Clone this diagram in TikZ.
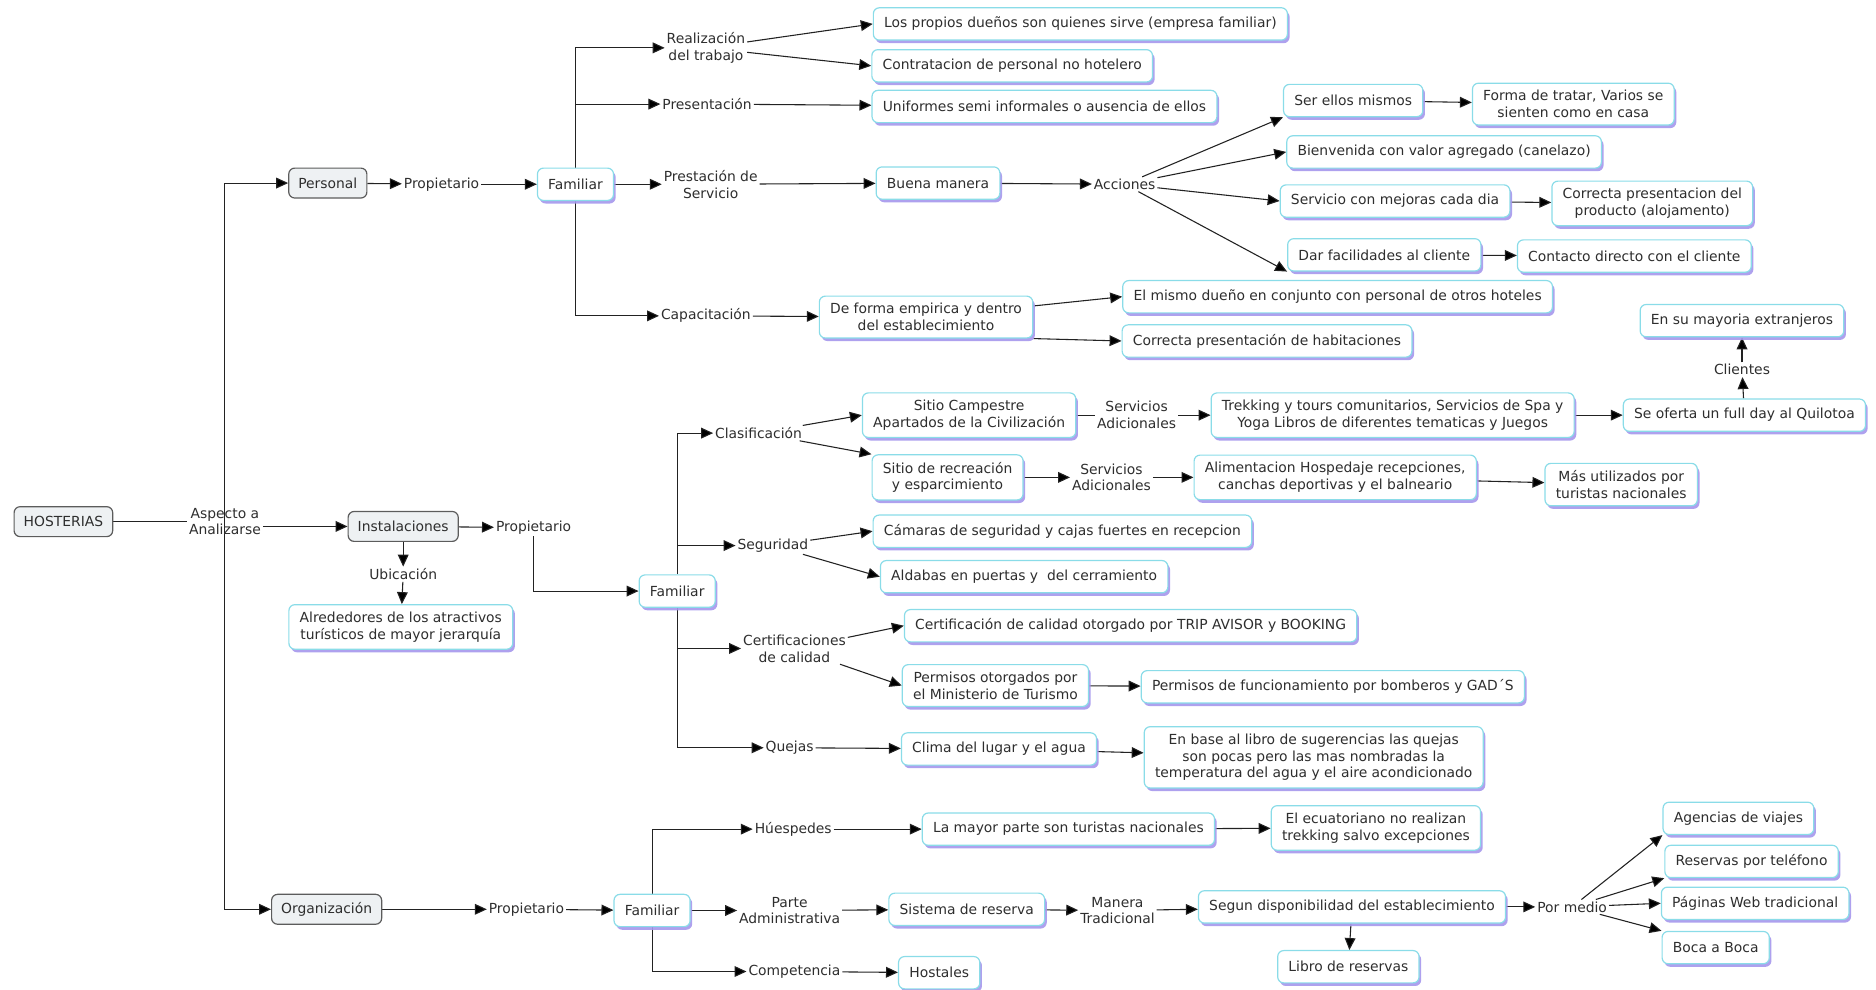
\documentclass[tikz,border=0pt]{standalone}
\usepackage{fontspec}
\setmainfont{DejaVu Sans}
\usetikzlibrary{arrows.meta,shadows,backgrounds}
\definecolor{ink}{HTML}{2E2E2E}
\definecolor{wire}{HTML}{222222}
\definecolor{cyanline}{HTML}{8ADCE8}
\definecolor{shade}{HTML}{A597EC}
\definecolor{greyfill}{HTML}{EEF1F3}
\definecolor{greyline}{HTML}{5C5C5C}
\tikzset{
  box/.style={rounded corners=5pt, draw=cyanline, line width=1pt, fill=white,
    inner xsep=9pt, inner ysep=6pt, minimum height=27pt, align=center,
    drop shadow={shadow xshift=1.8pt, shadow yshift=-2.6pt, fill=shade, opacity=0.9}},
  gbox/.style={rounded corners=5pt, draw=greyline, line width=1pt, fill=greyfill,
    inner xsep=8pt, inner ysep=4pt, minimum height=25pt, align=center},
  lbl/.style={inner sep=1.5pt, align=center},
  arr/.style={draw=wire, line width=0.9pt, -{Triangle[length=10pt,width=9pt,fill=black]}},
  ln/.style={draw=wire, line width=0.9pt},
}
\begin{document}
\begin{tikzpicture}[x=1pt,y=-1pt, font=\fontsize{11.6}{14}\selectfont, text=ink]
\useasboundingbox (0,0) rectangle (1568,827);

% ---- root and first level
\node[gbox] (hos) at (53,436) {HOSTERIAS};
\node[lbl] (asp) at (188,436) {Aspecto a\\Analizarse};
\node[gbox] (pers) at (274,153) {Personal};
\node[gbox] (inst) at (337,440) {Instalaciones};
\node[gbox] (org) at (273,760) {Organización};

% ---- Personal branch
\node[lbl] (prop1) at (369,154) {Propietario};
\node[box] (fam1) at (481,154) {Familiar};
\node[lbl] (realiz) at (590,40) {Realización\\del trabajo};
\node[lbl] (present) at (591,87) {Presentación};
\node[lbl] (prest) at (594,154) {Prestación de\\Servicio};
\node[lbl] (capac) at (590,264) {Capacitación};
\node[box] (propios) at (903,20) {Los propios dueños son quienes sirve (empresa familiar)};
\node[box] (contrat) at (846,55) {Contratacion de personal no hotelero};
\node[box] (unif) at (873,89) {Uniformes semi informales o ausencia de ellos};
\node[box] (buena) at (784,153) {Buena manera};
\node[lbl] (acc) at (940,154) {Acciones};
\node[box] (ser) at (1131,84) {Ser ellos mismos};
\node[box] (forma) at (1315,87) {Forma de tratar, Varios se\\sienten como en casa};
\node[box] (bienv) at (1207,127) {Bienvenida con valor agregado (canelazo)};
\node[box] (servm) at (1166,168) {Servicio con mejoras cada dia};
\node[box] (corrp) at (1381,170) {Correcta presentacion del\\producto (alojamento)};
\node[box] (dar) at (1157,213) {Dar facilidades al cliente};
\node[box] (contacto) at (1366,214) {Contacto directo con el cliente};
\node[box] (empir) at (774,265) {De forma empirica y dentro\\del establecimiento};
\node[box] (mismo) at (1118,248) {El mismo dueño en conjunto con personal de otros hoteles};
\node[box] (habit) at (1059,285) {Correcta presentación de habitaciones};

% ---- Instalaciones branch
\node[lbl] (prop2) at (446,441) {Propietario};
\node[lbl] (ubic) at (337,480) {Ubicación};
\node[box] (alred) at (335,524) {Alrededores de los atractivos\\turísticos de mayor jerarquía};
\node[box] (fam2) at (566,494) {Familiar};
\node[lbl] (clasif) at (634,362) {Clasificación};
\node[box] (campestre) at (810,347) {Sitio Campestre\\Apartados de la Civilización};
\node[lbl] (serv1) at (950,347) {Servicios\\Adicionales};
\node[box] (trekking) at (1164,347) {Trekking y tours comunitarios, Servicios de Spa y\\Yoga Libros de diferentes tematicas y Juegos};
\node[box] (oferta) at (1458,347) {Se oferta un full day al Quilotoa};
\node[lbl] (clientes) at (1456,309) {Clientes};
\node[box] (extr) at (1456,268) {En su mayoria extranjeros};
\node[box] (recre) at (792,399) {Sitio de recreación\\y esparcimiento};
\node[lbl] (serv2) at (929,399) {Servicios\\Adicionales};
\node[box] (alim) at (1116,399) {Alimentacion Hospedaje recepciones,\\canchas deportivas y el balneario};
\node[box] (masu) at (1355,405) {Más utilizados por\\turistas nacionales};
\node[lbl] (segur) at (646,456) {Seguridad};
\node[box] (camaras) at (888,444) {Cámaras de seguridad y cajas fuertes en recepcion};
\node[box] (aldabas) at (856,482) {Aldabas en puertas y \ del cerramiento};
\node[lbl] (certif) at (664,542) {Certificaciones\\de calidad};
\node[box] (certcal) at (945,523) {Certificación de calidad otorgado por TRIP AVISOR y BOOKING};
\node[box] (permmin) at (832,573) {Permisos otorgados por\\el Ministerio de Turismo};
\node[box] (permfun) at (1114,574) {Permisos de funcionamiento por bomberos y GAD´S};
\node[lbl] (quejas) at (660,625) {Quejas};
\node[box] (clima) at (835,626) {Clima del lugar y el agua};
\node[box] (enbase) at (1098,633) {En base al libro de sugerencias las quejas\\son pocas pero las mas nombradas la\\temperatura del agua y el aire acondicionado};

% ---- Organización branch
\node[lbl] (prop3) at (440,760) {Propietario};
\node[box] (fam3) at (545,761) {Familiar};
\node[lbl] (huesp) at (663,693) {Húespedes};
\node[box] (mayor) at (893,693) {La mayor parte son turistas nacionales};
\node[box] (ecuat) at (1150,692) {El ecuatoriano no realizan\\trekking salvo excepciones};
\node[lbl] (parte) at (660,761) {Parte\\Administrativa};
\node[box] (sist) at (808,760) {Sistema de reserva};
\node[lbl] (manera) at (934,761) {Manera\\Tradicional};
\node[box] (segun) at (1130,758) {Segun disponibilidad del establecimiento};
\node[box] (libro) at (1127,808) {Libro de reservas};
\node[lbl] (pormedio) at (1314,758) {Por medio};
\node[box] (agencias) at (1453,684) {Agencias de viajes};
\node[box] (reservas) at (1464,720) {Reservas por teléfono};
\node[box] (paginas) at (1467,755) {Páginas Web tradicional};
\node[box] (boca) at (1434,792) {Boca a Boca};
\node[lbl] (compet) at (664,812) {Competencia};
\node[box] (hostales) at (785,813) {Hostales};

\begin{scope}[on background layer]
% root
\draw[ln] (hos) -- (asp);
\draw[arr] (asp.east |- inst.west) -- (inst.west);
\draw[arr] (asp.center) |- (pers);
\draw[arr] (asp.center) |- (org);
% Personal
\draw[arr] (pers) -- (prop1);
\draw[arr] (prop1) -- (fam1);
\draw[arr] (fam1) |- (realiz);
\draw[arr] (fam1) |- (present);
\draw[arr] (fam1) |- (capac);
\draw[arr] (fam1) -- (prest);
\draw[arr] (realiz) -- (propios.west);
\draw[arr] (realiz) -- (contrat.west);
\draw[arr] (present) -- (unif);
\draw[arr] (prest) -- (buena);
\draw[arr] (buena) -- (acc);
\draw[arr] (acc) -- (ser.south west);
\draw[arr] (acc) -- (bienv.west);
\draw[arr] (acc) -- (servm.west);
\draw[arr] (acc) -- (dar.south west);
\draw[arr] (ser) -- (forma);
\draw[arr] (servm) -- (corrp);
\draw[arr] (dar) -- (contacto);
\draw[arr] (capac) -- (empir);
\draw[arr] (empir) -- (mismo.west);
\draw[arr] (empir.south east) -- (habit.west);
% Instalaciones
\draw[arr] (inst) -- (prop2);
\draw[arr] (prop2) |- (fam2);
\draw[arr] (inst) -- (ubic);
\draw[arr] (ubic) -- (alred);
\draw[arr] (fam2) |- (clasif);
\draw[arr] (fam2) |- (segur);
\draw[arr] (fam2) |- (certif);
\draw[arr] (fam2) |- (quejas);
\draw[arr] (clasif) -- (campestre.west);
\draw[arr] (clasif) -- (recre.north west);
\draw[ln] (campestre) -- (serv1);
\draw[arr] (serv1) -- (trekking);
\draw[arr] (trekking) -- (oferta);
\draw[arr] (oferta) -- (clientes);
\draw[arr] (clientes) -- (extr);
\draw[arr] (recre) -- (serv2);
\draw[arr] (serv2) -- (alim);
\draw[arr] (alim) -- (masu);
\draw[arr] (segur) -- (camaras.west);
\draw[arr] (segur) -- (aldabas.west);
\draw[arr] (certif) -- (certcal.west);
\draw[arr] (certif) -- (permmin.west);
\draw[arr] (permmin) -- (permfun);
\draw[arr] (quejas) -- (clima);
\draw[arr] (clima) -- (enbase);
% Organización
\draw[arr] (org) -- (prop3);
\draw[arr] (prop3) -- (fam3);
\draw[arr] (fam3) |- (huesp);
\draw[arr] (fam3) -- (parte);
\draw[arr] (fam3) |- (compet);
\draw[arr] (huesp) -- (mayor);
\draw[arr] (mayor) -- (ecuat);
\draw[arr] (parte) -- (sist);
\draw[arr] (sist) -- (manera);
\draw[arr] (manera) -- (segun);
\draw[arr] (segun) -- (pormedio);
\draw[arr] (segun) -- (libro);
\draw[arr] (pormedio) -- (agencias.south west);
\draw[arr] (pormedio) -- (reservas.south west);
\draw[arr] (pormedio) -- (paginas.west);
\draw[arr] (pormedio) -- (boca.north west);
\draw[arr] (compet) -- (hostales);
\end{scope}
\end{tikzpicture}
\end{document}
